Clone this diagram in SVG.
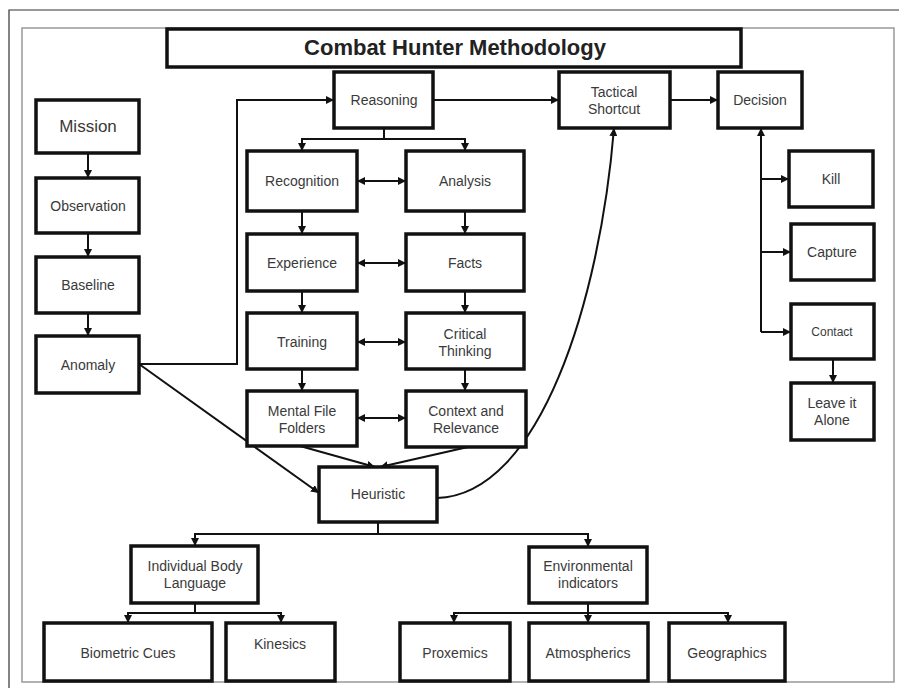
<svg xmlns="http://www.w3.org/2000/svg" width="899" height="688" viewBox="0 0 899 688">
  <style>
    .box { fill: #fff; stroke: #111; stroke-width: 3.5; }
    .lbl { font-family: "Liberation Sans", Arial, sans-serif; font-size: 14px; fill: #3a3a3a; text-anchor: middle; }
    .title { font-family: "Liberation Sans", Arial, sans-serif; font-size: 22px; font-weight: bold; fill: #222; text-anchor: middle; }
    .con { fill: none; stroke: #111; stroke-width: 2; }
    .arr { marker-end: url(#ah); }
    .both { marker-start: url(#ah); marker-end: url(#ah); }
  </style>
  <defs>
    <marker id="ah" viewBox="0 0 8 8" refX="8" refY="4" markerWidth="8" markerHeight="8" markerUnits="userSpaceOnUse" orient="auto-start-reverse">
      <path d="M0,0 L8,4 L0,8 z" fill="#111"/>
    </marker>
  </defs>

  <rect width="899" height="688" fill="#fff"/>
  <!-- page frames -->
  <path d="M9,688 V10 H899" fill="none" stroke="#333" stroke-width="1.2"/>
  <rect x="22" y="28" width="872" height="654" fill="none" stroke="#999" stroke-width="1.5"/>

  <!-- connectors -->
  <g id="connectors">
    <path class="con arr" d="M88,153 V178"/>
    <path class="con arr" d="M88,233 V257"/>
    <path class="con arr" d="M88,313 V336"/>
    <path class="con arr" d="M139,364 H237 V100 H334"/>
    <path class="con arr" d="M139,364 L319,493"/>
    <path class="con arr" d="M433,100 H559"/>
    <path class="con arr" d="M670,100 H718"/>
    <path class="con" d="M384,128 V139"/>
    <path class="con both" d="M302,151 V139 H465 V151"/>
    <path class="con both" d="M357,181 H406"/>
    <path class="con arr" d="M302,211 V234"/>
    <path class="con arr" d="M465,211 V234"/>
    <path class="con both" d="M357,263 H406"/>
    <path class="con arr" d="M302,291 V313"/>
    <path class="con arr" d="M465,291 V313"/>
    <path class="con both" d="M357,342 H406"/>
    <path class="con arr" d="M302,369 V391"/>
    <path class="con arr" d="M465,369 V391"/>
    <path class="con both" d="M357,418 H406"/>
    <path class="con arr" d="M300,446 L375,467"/>
    <path class="con arr" d="M468,447 L380,467"/>
    <path class="con arr" d="M437,498 C540,495 600,300 614,128"/>
    <path class="con arr" d="M761,332 V128"/>
    <path class="con arr" d="M761,179 H789"/>
    <path class="con arr" d="M761,252 H791"/>
    <path class="con arr" d="M761,332 H791"/>
    <path class="con arr" d="M833,359 V383"/>
    <path class="con" d="M378,522 V534"/>
    <path class="con both" d="M195,546 V534 H588 V547"/>
    <path class="con" d="M195,603 V613"/>
    <path class="con both" d="M128,623 V613 H281 V623"/>
    <path class="con arr" d="M588,603 V623"/>
    <path class="con both" d="M454,623 V613 H728 V623"/>
  </g>

  <!-- title -->
  <g id="title">
    <rect class="box" x="167" y="29" width="574" height="38"/>
    <text class="title" x="455" y="55">Combat Hunter Methodology</text>
  </g>

  <!-- left chain -->
  <g id="mission"><rect class="box" x="36" y="100" width="103" height="53"/><text class="lbl" x="88" y="132" style="font-size:17px">Mission</text></g>
  <g id="observation"><rect class="box" x="36" y="178" width="103" height="55"/><text class="lbl" x="88" y="211">Observation</text></g>
  <g id="baseline"><rect class="box" x="36" y="257" width="103" height="56"/><text class="lbl" x="88" y="290">Baseline</text></g>
  <g id="anomaly"><rect class="box" x="36" y="336" width="103" height="57"/><text class="lbl" x="88" y="370">Anomaly</text></g>

  <!-- top row -->
  <g id="reasoning"><rect class="box" x="334" y="72" width="99" height="56"/><text class="lbl" x="384" y="105">Reasoning</text></g>
  <g id="tactical-shortcut"><rect class="box" x="559" y="72" width="111" height="56"/><text class="lbl" x="614" y="97">Tactical</text><text class="lbl" x="614" y="114">Shortcut</text></g>
  <g id="decision"><rect class="box" x="718" y="72" width="84" height="56"/><text class="lbl" x="760" y="105">Decision</text></g>

  <!-- reasoning grid -->
  <g id="recognition"><rect class="box" x="247" y="151" width="110" height="60"/><text class="lbl" x="302" y="186">Recognition</text></g>
  <g id="analysis"><rect class="box" x="406" y="151" width="118" height="60"/><text class="lbl" x="465" y="186">Analysis</text></g>
  <g id="experience"><rect class="box" x="247" y="234" width="110" height="57"/><text class="lbl" x="302" y="268">Experience</text></g>
  <g id="facts"><rect class="box" x="406" y="234" width="118" height="57"/><text class="lbl" x="465" y="268">Facts</text></g>
  <g id="training"><rect class="box" x="247" y="313" width="110" height="56"/><text class="lbl" x="302" y="347">Training</text></g>
  <g id="critical-thinking"><rect class="box" x="406" y="313" width="118" height="56"/><text class="lbl" x="465" y="339">Critical</text><text class="lbl" x="465" y="356">Thinking</text></g>
  <g id="mental-file-folders"><rect class="box" x="247" y="391" width="110" height="55"/><text class="lbl" x="302" y="416">Mental File</text><text class="lbl" x="302" y="433">Folders</text></g>
  <g id="context-relevance"><rect class="box" x="406" y="391" width="120" height="56"/><text class="lbl" x="466" y="416">Context and</text><text class="lbl" x="466" y="433">Relevance</text></g>
  <g id="heuristic"><rect class="box" x="319" y="467" width="118" height="55"/><text class="lbl" x="378" y="499">Heuristic</text></g>

  <!-- decision outcomes -->
  <g id="kill"><rect class="box" x="789" y="151" width="84" height="56"/><text class="lbl" x="831" y="184">Kill</text></g>
  <g id="capture"><rect class="box" x="791" y="224" width="83" height="56"/><text class="lbl" x="832" y="257">Capture</text></g>
  <g id="contact"><rect class="box" x="791" y="304" width="83" height="55"/><text class="lbl" x="832" y="336" style="font-size:12px">Contact</text></g>
  <g id="leave-it-alone"><rect class="box" x="791" y="383" width="83" height="57"/><text class="lbl" x="832" y="408">Leave it</text><text class="lbl" x="832" y="425">Alone</text></g>

  <!-- heuristic branches -->
  <g id="individual-body-language"><rect class="box" x="131" y="546" width="127" height="57"/><text class="lbl" x="195" y="571">Individual Body</text><text class="lbl" x="195" y="588">Language</text></g>
  <g id="environmental-indicators"><rect class="box" x="529" y="547" width="118" height="56"/><text class="lbl" x="588" y="571">Environmental</text><text class="lbl" x="588" y="588">indicators</text></g>
  <g id="biometric-cues"><rect class="box" x="44" y="623" width="168" height="58"/><text class="lbl" x="128" y="658">Biometric Cues</text></g>
  <g id="kinesics"><rect class="box" x="226" y="623" width="109" height="58"/><text class="lbl" x="280" y="649">Kinesics</text></g>
  <g id="proxemics"><rect class="box" x="400" y="623" width="110" height="58"/><text class="lbl" x="455" y="658">Proxemics</text></g>
  <g id="atmospherics"><rect class="box" x="529" y="623" width="119" height="58"/><text class="lbl" x="588" y="658">Atmospherics</text></g>
  <g id="geographics"><rect class="box" x="669" y="623" width="116" height="58"/><text class="lbl" x="727" y="658">Geographics</text></g>
</svg>
